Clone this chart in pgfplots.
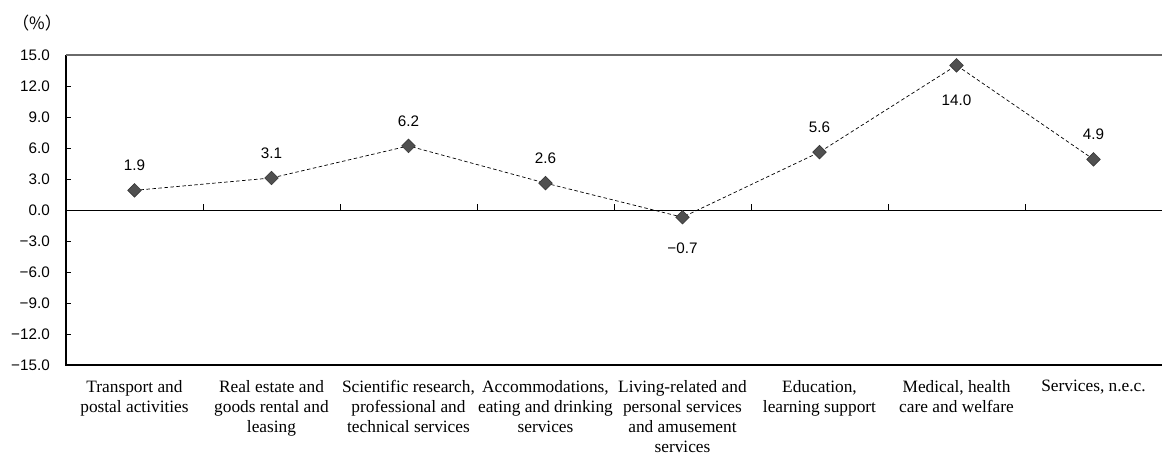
\documentclass[border=0pt]{standalone}
\usepackage{pgfplots}
\pgfplotsset{compat=1.18}
\usepackage{pgfplotstable}
\usepackage{fontspec}
\setmainfont{Liberation Serif}
\newfontfamily\arial{Liberation Sans}
\newfontfamily\cjk{Noto Sans CJK JP}
\definecolor{mk}{HTML}{505050}
\definecolor{topline}{HTML}{6A6A6A}

\pgfplotstableread{
x y dy lab
0 1.9 25 1.9
1 3.1 25 3.1
2 6.2 25 6.2
3 2.6 25 2.6
4 -0.7 -31 −0.7
5 5.6 25 5.6
6 14.0 -35 14.0
7 4.9 25 4.9
}\data

\begin{document}
\begin{tikzpicture}
\path[use as bounding box] (0,0) rectangle (1162bp,454bp);
\begin{axis}[
  at={(66bp,89bp)}, anchor=south west,
  scale only axis, width=1096bp, height=310bp,
  xmin=-0.5, xmax=7.5, ymin=-15, ymax=15,
  axis line style={draw=none},
  clip=false,
  xtick={0,...,7},
  xticklabels={
    {Transport and\\postal activities},
    {Real estate and\\goods rental and\\leasing},
    {Scientific research,\\professional and\\technical services},
    {Accommodations,\\eating and drinking\\services},
    {Living-related and\\personal services\\and amusement\\services},
    {Education,\\learning support},
    {Medical, health\\care and welfare},
    {Services, n.e.c.}},
  xtick style={draw=none},
  xticklabel style={font=\fontsize{17.4}{20}\selectfont, align=center, inner sep=0pt, anchor=north},
  xticklabel shift=15bp,
  ytick={-15,-12,...,15},
  yticklabels={−15.0,−12.0,−9.0,−6.0,−3.0,0.0,3.0,6.0,9.0,12.0,15.0},
  ytick pos=left,
  tick align=inside,
  major tick length=5bp,
  ytick style={black, line width=0.8pt},
  yticklabel style={font=\arial\fontsize{15.3}{18}\selectfont, inner sep=0pt, anchor=east},
  yticklabel shift=16bp,
]
\draw[black, line width=1.2pt] (rel axis cs:0,1) -- (rel axis cs:0,0) -- (rel axis cs:1,0);
\draw[topline, line width=1.2pt] (rel axis cs:0,1) -- (rel axis cs:1,1);
\draw[black, line width=0.9pt] (axis cs:-0.5,0) -- (axis cs:7.5,0);
\draw[black, line width=0.8pt] (axis cs:0.5,0) -- ([yshift=6bp]axis cs:0.5,0);
\draw[black, line width=0.8pt] (axis cs:1.5,0) -- ([yshift=6bp]axis cs:1.5,0);
\draw[black, line width=0.8pt] (axis cs:2.5,0) -- ([yshift=6bp]axis cs:2.5,0);
\draw[black, line width=0.8pt] (axis cs:3.5,0) -- ([yshift=6bp]axis cs:3.5,0);
\draw[black, line width=0.8pt] (axis cs:4.5,0) -- ([yshift=6bp]axis cs:4.5,0);
\draw[black, line width=0.8pt] (axis cs:5.5,0) -- ([yshift=6bp]axis cs:5.5,0);
\draw[black, line width=0.8pt] (axis cs:6.5,0) -- ([yshift=6bp]axis cs:6.5,0);
\addplot[black, line width=0.7pt, dash pattern=on 3.5bp off 2.5bp,
  mark=square*, mark size=4.8bp,
  mark options={solid, rotate=45, fill=mk, draw=mk!70!black, line width=0.6pt},
  point meta=explicit symbolic,
  nodes near coords,
  visualization depends on={\thisrow{dy} \as \dy},
  every node near coord/.append style={anchor=center, yshift=\dy pt, font=\arial\fontsize{15.3}{18}\selectfont, inner sep=0pt}
] table[x=x, y=y, meta=lab] {\data};
\end{axis}
\node[font=\cjk\fontsize{17}{20}\selectfont, inner sep=0pt] at (37bp,431bp) {（\%）};
\end{tikzpicture}
\end{document}
